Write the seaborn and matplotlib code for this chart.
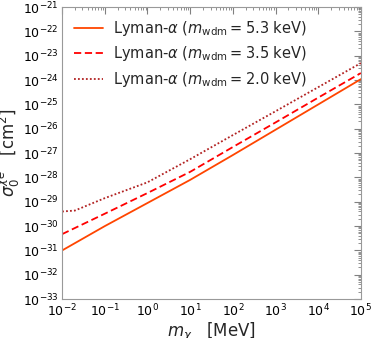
import numpy as np
import pandas as pd
import seaborn as sns
import matplotlib.pyplot as plt
from matplotlib.ticker import LogLocator, NullFormatter

# ------------------------------------------------------------------------------------------------ #
# values (log10 of mass in MeV, log10 of cross section in cm^2)
log_m = [-2.0, -1.0, 0.0, 1.0, 2.0, 3.0, 4.0, 5.0]
log_sigma_53 = [-31.0, -30.0, -29.05, -28.1, -27.08, -26.04, -25.0, -23.96]
log_sigma_35 = [-30.33, -29.49, -28.64, -27.77, -26.75, -25.74, -24.72, -23.71]
log_m_20 = [-2.0, -1.7, -1.0, 0.0, 1.0, 2.0, 3.0, 4.0, 5.0]
log_sigma_20 = [-29.40, -29.36, -28.85, -28.2, -27.25, -26.26, -25.28, -24.29, -23.30]

labels = [
    r"Lyman-$\alpha$ ($m_{\rm wdm} = 5.3$ keV)",
    r"Lyman-$\alpha$ ($m_{\rm wdm} = 3.5$ keV)",
    r"Lyman-$\alpha$ ($m_{\rm wdm} = 2.0$ keV)",
]
# ------------------------------------------------------------------------------------------------ #
sns.set_style("white")
plt.rcParams["font.family"] = ["DejaVu Sans"]
plt.rcParams["mathtext.fontset"] = "dejavusans"

fig = plt.figure(figsize=(3.74, 3.38), dpi=100)
ax = fig.add_axes([0.166, 0.115, 0.799, 0.864])

series = [
    (log_m, log_sigma_53, "orangered", "-"),
    (log_m, log_sigma_35, "red", (0, (4, 2))),
    (log_m_20, log_sigma_20, "firebrick", (0, (1, 1.2))),
]
for (xs, ys, color, ls), label in zip(series, labels):
    df = pd.DataFrame({"m": 10.0 ** np.array(xs), "sigma": 10.0 ** np.array(ys)})
    sns.lineplot(data=df, x="m", y="sigma", ax=ax, color=color, linestyle=ls,
                 linewidth=1.3, label=label)

ax.set_xscale("log")
ax.set_yscale("log")
ax.set_xlim(1e-2, 1e5)
ax.set_ylim(1e-33, 1e-21)
ax.set_yticks([10.0 ** k for k in range(-33, -20)])
ax.set_xticks([10.0 ** k for k in range(-2, 6)])

ax.set_xlabel(r"$m_\chi$   [MeV]", fontsize=12, labelpad=1)
ax.set_ylabel(r"$\sigma_0^{\chi e}$   [cm$^2$]", fontsize=12)
ax.yaxis.set_label_coords(-0.135, 0.5)

ax.tick_params(which="both", direction="in", top=True, right=True, colors="0.5",
               labelcolor="black", labelsize=9.0)
ax.tick_params(which="major", length=5, width=0.8, pad=2.5)
ax.tick_params(which="minor", length=2.5, width=0.6)
ax.yaxis.set_minor_locator(LogLocator(base=10, subs=np.arange(2, 10), numticks=100))
ax.yaxis.set_minor_formatter(NullFormatter())
for s in ax.spines.values():
    s.set_color("0.6")
    s.set_linewidth(0.8)

ax.legend(loc="upper left", frameon=False, fontsize=10.5, handlelength=2.0,
          borderaxespad=0.4, labelspacing=0.45, handletextpad=0.7)

fig.savefig("out.png", dpi=100)
